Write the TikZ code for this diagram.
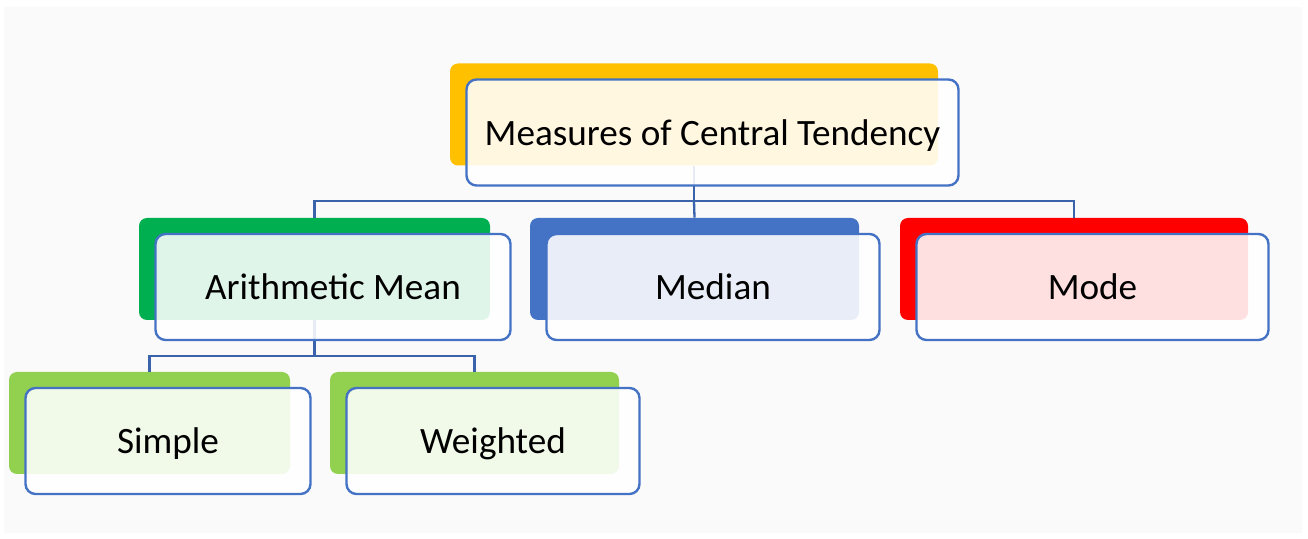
\documentclass[tikz,border=0pt]{standalone}
\usepackage{fontspec}
\setmainfont{Carlito}
\usepackage{xcolor}
\usetikzlibrary{positioning,backgrounds}

\definecolor{gold}{HTML}{FFC000}
\definecolor{leafgreen}{HTML}{00B050}
\definecolor{steelblue}{HTML}{4472C4}
\definecolor{brightred}{HTML}{FF0000}
\definecolor{limegreen}{HTML}{92D050}
\definecolor{linkblue}{HTML}{3B63AC}
\definecolor{panel}{HTML}{FAFAFA}

\begin{document}
\begin{tikzpicture}[x=0.5pt, y=-0.5pt,
  back/.style  = {rectangle, rounded corners=4pt, minimum height=51pt,
                  inner sep=0pt},
  front/.style = {rectangle, draw=steelblue, line width=1.2pt,
                  rounded corners=5pt, fill=white, fill opacity=0.88,
                  text opacity=1, minimum height=53pt, inner sep=0pt,
                  text depth=0pt, xshift=9.25pt, yshift=-9pt,
                  font=\fontsize{18.6}{22}\selectfont},
  conn/.style  = {draw=linkblue, line width=1.15pt}
]
\useasboundingbox (0,0) rectangle (1308,539);
\fill[panel] (4,7) rectangle (1302,533);

% , - Coloured back plates , -
\node[back, fill=gold,       minimum width=244pt]   (topb)  at (694,114.5) {};
\node[back, fill=leafgreen,  minimum width=175.5pt] (amb)   at (314.5,269) {};
\node[back, fill=steelblue,  minimum width=164.5pt] (medb)  at (694.5,269) {};
\node[back, fill=brightred,  minimum width=174pt]   (modeb) at (1074,269) {};
\node[back, fill=limegreen,  minimum width=140.5pt] (simb)  at (149.5,423) {};
\node[back, fill=limegreen,  minimum width=144.5pt] (weib)  at (474.5,423) {};

% , - Connectors , -
\coordinate (hubtop) at (694,201);
\coordinate (hubam)  at (314.5,356);
\draw[conn] (topb.south) -- (hubtop);
\draw[conn] (hubtop) -| (amb.north);
\draw[conn] (hubtop) -| (modeb.north);
\draw[conn] (hubtop) -- (medb.north);
\draw[conn] (amb.south) -- (hubam);
\draw[conn] (hubam) -| (simb.north);
\draw[conn] (hubam) -| (weib.north);

% , - Text boxes , -
\node[front, minimum width=246pt]   (top)  at (topb)  {Measures of Central Tendency};
\node[front, minimum width=177.5pt] (am)   at (amb)   {Arithmetic Mean};
\node[front, minimum width=166.5pt] (med)  at (medb)  {Median};
\node[front, minimum width=176pt]   (mode) at (modeb) {Mode};
\node[front, minimum width=142.5pt] (sim)  at (simb)  {Simple};
\node[front, minimum width=146.5pt] (wei)  at (weib)  {Weighted};

\end{tikzpicture}
\end{document}
